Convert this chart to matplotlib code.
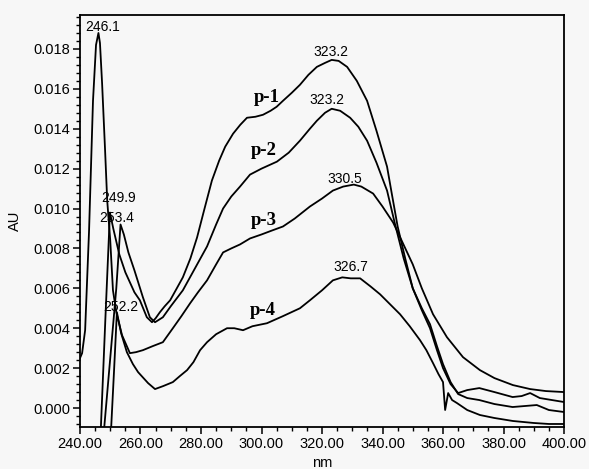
import matplotlib
matplotlib.use("Agg")
import matplotlib.pyplot as plt
from matplotlib.ticker import MultipleLocator, FormatStrFormatter

# wavelength (nm) / absorbance (AU)
p1_nm = [243.5, 246.9, 248.4, 249.9, 251.0, 253.0, 255.0, 256.5, 258.0, 259.8, 262.1, 263.8,
         265.0, 266.4, 268.0, 269.8, 272.0, 274.0, 276.5, 278.7, 281.0, 283.6, 286.0, 288.0,
         290.6, 293.0, 295.2, 298.0, 300.5, 303.0, 305.0, 307.1, 310.0, 312.7, 315.5, 318.3,
         321.0, 323.2, 325.5, 328.3, 331.5, 334.9, 338.0, 341.5, 343.0, 345.0, 347.5, 350.0,
         353.0, 355.7, 358.0, 360.0, 362.5, 365.0, 368.0, 372.0, 377.0, 383.0, 386.0, 388.8,
         392.0, 396.0, 400.0]
p1_au = [-0.012, -0.001, 0.0045, 0.0098, 0.0090, 0.0077, 0.0068, 0.0063, 0.0058, 0.0054, 0.00455, 0.0043,
         0.0045, 0.0048, 0.0051, 0.0054, 0.0060, 0.00655, 0.0075, 0.00855, 0.0099, 0.0114, 0.0124, 0.0131,
         0.01375, 0.0142, 0.01455, 0.0146, 0.0147, 0.0149, 0.0151, 0.0154, 0.0158, 0.0162, 0.0167, 0.0171,
         0.0173, 0.01745, 0.0174, 0.0171, 0.0164, 0.0154, 0.0139, 0.0121, 0.0108, 0.0091, 0.0075, 0.0060,
         0.0049, 0.0040, 0.0029, 0.0020, 0.0012, 0.00075, 0.0009, 0.0010, 0.0008, 0.00055, 0.0006, 0.00075,
         0.0005, 0.0004, 0.0003]

p2_nm = [245.0, 248.0, 250.0, 252.0, 253.4, 254.5, 256.0, 258.0, 260.8, 263.1, 264.8, 267.4,
         270.0, 274.0, 278.0, 282.0, 285.0, 287.3, 290.0, 292.9, 296.2, 300.0, 305.1, 309.0,
         312.7, 316.0, 318.3, 321.0, 323.2, 326.0, 329.3, 332.0, 334.9, 338.0, 341.5, 344.0,
         347.0, 350.0, 353.0, 355.7, 358.0, 360.0, 362.5, 365.0, 368.0, 372.0, 377.0, 383.0,
         387.0, 391.0, 395.0, 400.0]
p2_au = [-0.012, -0.001, 0.0025, 0.0060, 0.0092, 0.0087, 0.0078, 0.0069, 0.00555, 0.00455, 0.0043, 0.00455,
         0.0051, 0.0059, 0.0070, 0.0081, 0.0092, 0.0100, 0.0106, 0.0111, 0.0117, 0.0120, 0.01235, 0.0128,
         0.0134, 0.0140, 0.0144, 0.0148, 0.0150, 0.0149, 0.01455, 0.0141, 0.0134, 0.0123, 0.0109, 0.0093,
         0.0075, 0.0060, 0.0050, 0.0042, 0.0031, 0.0022, 0.0013, 0.0007, 0.0005, 0.0004, 0.0002, 0.00005,
         0.0001, 0.00015, -0.0001, -0.0002]

p3_nm = [240.0, 240.7, 241.7, 243.0, 244.3, 245.3, 246.1, 246.6, 247.3, 248.3, 249.0, 250.0,
         250.9, 252.0, 253.9, 256.5, 258.5, 260.8, 264.0, 267.4, 270.7, 273.5, 276.4, 279.0,
         282.0, 285.0, 287.3, 290.0, 292.9, 296.2, 300.0, 303.5, 307.1, 311.0, 316.0, 320.0,
         323.6, 327.0, 330.5, 333.0, 336.9, 340.0, 343.5, 346.0, 350.0, 353.0, 356.7, 361.3,
         366.6, 372.2, 377.0, 383.1, 388.8, 394.0, 400.0]
p3_au = [0.0025, 0.00275, 0.0039, 0.0089, 0.0154, 0.0182, 0.0188, 0.0183, 0.0163, 0.0129, 0.0104, 0.0084,
         0.0059, 0.0048, 0.00365, 0.00275, 0.0028, 0.0029, 0.0031, 0.0033, 0.0040, 0.0046, 0.00525, 0.0058,
         0.0064, 0.0072, 0.0078, 0.0080, 0.0082, 0.0085, 0.0087, 0.0089, 0.0091, 0.0095, 0.0101, 0.0105,
         0.0109, 0.0111, 0.0112, 0.0111, 0.01075, 0.0101, 0.0093, 0.0085, 0.0072, 0.0060, 0.0047, 0.00355,
         0.00255, 0.0019, 0.0015, 0.00115, 0.00095, 0.00085, 0.0008]

p4_nm = [246.0, 250.3, 251.3, 252.2, 253.6, 255.5, 257.5, 259.2, 262.5, 264.8, 267.5, 270.7,
         273.0, 275.4, 277.5, 279.7, 282.0, 285.0, 288.6, 291.0, 293.9, 297.0, 301.8, 307.0,
         312.7, 316.0, 320.0, 323.6, 326.7, 329.5, 332.6, 336.0, 339.2, 342.5, 345.8, 349.0,
         352.4, 354.5, 356.7, 358.5, 360.0, 360.7, 361.7, 363.0, 364.6, 368.0, 372.2, 377.0,
         383.1, 390.0, 395.0, 400.0]
p4_au = [-0.012, -0.001, 0.0020, 0.0048, 0.00375, 0.0028, 0.0022, 0.0018, 0.00125, 0.00095, 0.0011, 0.0013,
         0.0016, 0.0019, 0.0023, 0.0029, 0.0033, 0.0037, 0.0040, 0.0040, 0.0039, 0.0041, 0.00425, 0.0046,
         0.0050, 0.0054, 0.0059, 0.0064, 0.00655, 0.0065, 0.0065, 0.0061, 0.0057, 0.0052, 0.0047, 0.0041,
         0.0034, 0.0029, 0.00225, 0.0017, 0.0013, -0.0001, 0.00075, 0.0004, 0.00025, -0.0001, -0.00035, -0.0005,
         -0.00065, -0.00075, -0.0008, -0.0008]

# peak annotations: (text, nm, AU)
peak_labels = [("246.1", 247.6, 0.0191), ("249.9", 252.6, 0.01055), ("253.4", 252.2, 0.0095),
               ("252.2", 253.6, 0.00505), ("323.2", 323.0, 0.01785), ("323.2", 321.7, 0.01545),
               ("330.5", 327.6, 0.0115), ("326.7", 329.6, 0.00705)]
curve_labels = [("p-1", 301.8, 0.01555), ("p-2", 300.8, 0.0129),
                ("p-3", 300.8, 0.0094), ("p-4", 300.5, 0.0049)]

bg = "#f7f7f7"
plt.rcParams["font.family"] = ["Liberation Sans", "DejaVu Sans"]

fig = plt.figure(figsize=(5.89, 4.69), dpi=100, facecolor=bg)
ax = fig.add_axes([0.1358, 0.0896, 0.8218, 0.8784], facecolor=bg)

for nm, au in [(p1_nm, p1_au), (p2_nm, p2_au), (p3_nm, p3_au), (p4_nm, p4_au)]:
    ax.plot(nm, au, color="black", linewidth=1.3)

for text, x, y in peak_labels:
    ax.text(x, y, text, ha="center", va="center", fontsize=10)
for text, x, y in curve_labels:
    ax.text(x, y, text, ha="center", va="center", fontsize=13.5,
            family="Liberation Serif", weight="bold")

ax.set_xlim(240, 400)
ax.set_ylim(-0.00095, 0.0197)
ax.xaxis.set_major_locator(MultipleLocator(20))
ax.xaxis.set_minor_locator(MultipleLocator(5))
ax.yaxis.set_major_locator(MultipleLocator(0.002))
ax.yaxis.set_minor_locator(MultipleLocator(0.0004))
ax.xaxis.set_major_formatter(FormatStrFormatter("%.2f"))
ax.yaxis.set_major_formatter(FormatStrFormatter("%.3f"))
ax.tick_params(which="major", length=5, width=1.1, labelsize=10.5, pad=2)
ax.tick_params(which="minor", length=3, width=1)
for s in ax.spines.values():
    s.set_linewidth(1.3)

ax.set_xlabel("nm", fontsize=10.5, labelpad=4)
ax.set_ylabel("AU", fontsize=10.5, labelpad=8)

fig.savefig("out.png", dpi=100, facecolor=bg)
